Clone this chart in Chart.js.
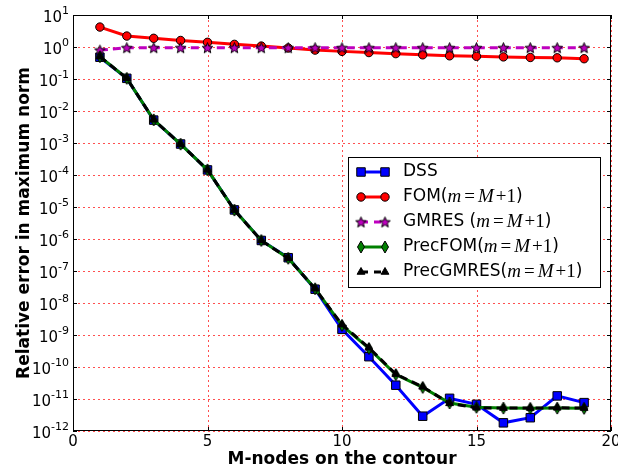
<!DOCTYPE html>
<html lang="en">
<head>
<meta charset="UTF-8">
<title>Relative error vs M-nodes</title>
<style>
    body { margin: 0; background: #fff; }
    canvas { display: block; }
</style>
<script src="https://cdn.jsdelivr.net/npm/chart.js@4.4.1/dist/chart.umd.min.js"></script>
</head>
<body>
<canvas id="errChart" width="618" height="470"></canvas>
<script>
// values
const nodes = [1, 2, 3, 4, 5, 6, 7, 8, 9, 10, 11, 12, 13, 14, 15, 16, 17, 18, 19];
const dss = [0.48, 0.105, 5.2e-3, 9.3e-4, 1.44e-4, 8.1e-6, 9e-7, 2.6e-7, 2.7e-8, 1.5e-9,
             2.1e-10, 2.7e-11, 2.9e-12, 1.05e-11, 6.8e-12, 1.8e-12, 2.6e-12, 1.25e-11, 7.7e-12];
const fom = [4.2, 2.2, 1.87, 1.6, 1.4, 1.21, 1.07, 0.93, 0.80, 0.73,
             0.67, 0.62, 0.57, 0.53, 0.51, 0.49, 0.47, 0.46, 0.43];
const gmres = [0.8, 0.95, 0.95, 0.95, 0.95, 0.95, 0.95, 0.95, 0.95, 0.95,
               0.95, 0.95, 0.95, 0.95, 0.95, 0.95, 0.95, 0.95, 0.95];
const precFom = [0.5, 0.105, 5.3e-3, 9.2e-4, 1.45e-4, 8e-6, 9e-7, 2.5e-7, 2.8e-8, 2e-9,
                 3.8e-10, 5.8e-11, 2.3e-11, 7.5e-12, 5.5e-12, 5.2e-12, 5.1e-12, 5.2e-12, 5.1e-12];
const precGmres = [0.5, 0.105, 5.3e-3, 9.2e-4, 1.45e-4, 8e-6, 9e-7, 2.5e-7, 2.8e-8, 2.1e-9,
                   4e-10, 6e-11, 2.4e-11, 7.3e-12, 5.3e-12, 5.2e-12, 5.2e-12, 5.3e-12, 5.2e-12];
const xTicks = [0, 5, 10, 15, 20];
const yExponents = [1, 0, -1, -2, -3, -4, -5, -6, -7, -8, -9, -10, -11, -12];

const BLUE = '#0000ff', RED = '#ff0000', MAG = '#bf00bf', GREEN = '#008000';

// matplotlib-like star and thin diamond markers as small images
function makeMarker(w, h, path, fill) {
    const c = document.createElement('canvas');
    c.width = w; c.height = h;
    const g = c.getContext('2d');
    g.beginPath();
    path(g);
    g.closePath();
    g.fillStyle = fill;
    g.fill();
    g.lineWidth = 1;
    g.strokeStyle = '#000';
    g.stroke();
    return c;
}
const starImg = makeMarker(13, 13, g => {
    for (let i = 0; i < 10; i++) {
        const r = i % 2 ? 2.4 : 5.6;
        const a = -Math.PI / 2 + i * Math.PI / 5;
        g.lineTo(6.5 + r * Math.cos(a), 7 + r * Math.sin(a));
    }
}, MAG);
const diamondImg = makeMarker(10, 14, g => {
    g.moveTo(5, 1); g.lineTo(8.5, 7); g.lineTo(5, 13); g.lineTo(1.5, 7);
}, GREEN);

function pts(vals) {
    return nodes.map((n, i) => ({ x: n, y: vals[i] }));
}

const series = [
    { label: 'DSS', math: false, data: dss, color: BLUE, fill: BLUE, style: 'rect', radius: 6, dash: [] },
    { label: 'FOM(', math: true, data: fom, color: RED, fill: RED, style: 'circle', radius: 4.2, dash: [] },
    { label: 'GMRES (', math: true, data: gmres, color: MAG, fill: MAG, style: starImg, radius: 6, dash: [8, 5] },
    { label: 'PrecFOM(', math: true, data: precFom, color: GREEN, fill: GREEN, style: diamondImg, radius: 6, dash: [] },
    { label: 'PrecGMRES(', math: true, data: precGmres, color: '#000', fill: '#000', style: 'triangle', radius: 4.5, dash: [8, 5] }
];

// red dotted grid under the lines
const dottedGrid = {
    id: 'dottedGrid',
    beforeDatasetsDraw(chart) {
        const ctx = chart.ctx;
        const a = chart.chartArea;
        const xs = chart.scales.x, ys = chart.scales.y;
        ctx.save();
        ctx.strokeStyle = 'rgb(255,80,80)';
        ctx.lineWidth = 1;
        ctx.setLineDash([2, 3]);
        ctx.beginPath();
        xTicks.forEach(v => {
            const px = Math.round(xs.getPixelForValue(v)) + 0.5;
            ctx.moveTo(px, a.top); ctx.lineTo(px, a.bottom);
        });
        yExponents.forEach(e => {
            const py = Math.round(ys.getPixelForValue(Math.pow(10, e))) + 0.5;
            ctx.moveTo(a.left, py); ctx.lineTo(a.right, py);
        });
        ctx.stroke();
        ctx.restore();
    }
};

// frame, inward ticks, tick labels, axis titles and legend
const decorations = {
    id: 'decorations',
    afterDraw(chart) {
        const ctx = chart.ctx;
        const a = chart.chartArea;
        const xs = chart.scales.x, ys = chart.scales.y;
        ctx.save();

        ctx.strokeStyle = '#000';
        ctx.lineWidth = 1;
        ctx.strokeRect(a.left + 0.5, a.top + 0.5, a.right - a.left - 1, a.bottom - a.top - 1);
        ctx.beginPath();
        xTicks.forEach(v => {
            const px = Math.round(xs.getPixelForValue(v)) + 0.5;
            ctx.moveTo(px, a.bottom); ctx.lineTo(px, a.bottom - 4);
            ctx.moveTo(px, a.top); ctx.lineTo(px, a.top + 4);
        });
        yExponents.forEach(e => {
            const py = Math.round(ys.getPixelForValue(Math.pow(10, e))) + 0.5;
            ctx.moveTo(a.left, py); ctx.lineTo(a.left + 4, py);
            ctx.moveTo(a.right, py); ctx.lineTo(a.right - 4, py);
        });
        ctx.stroke();

        ctx.fillStyle = '#000';
        ctx.font = '15px "DejaVu Sans"';
        ctx.textAlign = 'center';
        ctx.textBaseline = 'alphabetic';
        xTicks.forEach(v => {
            ctx.fillText(String(v), xs.getPixelForValue(v), a.bottom + 15);
        });

        ctx.textAlign = 'left';
        yExponents.forEach(e => {
            const py = ys.getPixelForValue(Math.pow(10, e));
            const sup = String(e);
            ctx.font = '11px "DejaVu Sans"';
            const sw = ctx.measureText(sup).width;
            ctx.font = '15px "DejaVu Sans"';
            const bw = ctx.measureText('10').width;
            const right = a.left - 4;
            ctx.fillText('10', right - sw - bw, py + 7);
            ctx.font = '11px "DejaVu Sans"';
            ctx.fillText(sup, right - sw, py - 1);
        });

        ctx.font = 'bold 17px "DejaVu Sans"';
        ctx.textAlign = 'center';
        ctx.fillText('M-nodes on the contour', (a.left + a.right) / 2, 464);
        ctx.save();
        ctx.translate(29, 223);
        ctx.rotate(-Math.PI / 2);
        ctx.fillText('Relative error in maximum norm', 0, 0);
        ctx.restore();

        // legend
        const bx = 348, by = 157, bw = 252, bh = 130;
        ctx.fillStyle = '#fff';
        ctx.fillRect(bx, by, bw, bh);
        ctx.strokeRect(bx + 0.5, by + 0.5, bw, bh);
        series.forEach((s, i) => {
            const y = by + 15 + i * 25;
            ctx.strokeStyle = s.color;
            ctx.lineWidth = 3;
            ctx.setLineDash(s.dash.length ? [7, 6] : []);
            ctx.beginPath();
            ctx.moveTo(361, y); ctx.lineTo(385, y);
            ctx.stroke();
            ctx.setLineDash([]);
            ctx.fillStyle = s.fill;
            ctx.strokeStyle = '#000';
            ctx.lineWidth = 1;
            [361, 385].forEach(mx => {
                Chart.helpers.drawPoint(ctx, { pointStyle: s.style, radius: s.radius, rotation: 0, borderWidth: 1 }, mx, y);
            });
            ctx.fillStyle = '#000';
            ctx.textAlign = 'left';
            ctx.textBaseline = 'middle';
            let x = 403;
            const put = (txt, font, gap) => {
                ctx.font = font;
                ctx.fillText(txt, x, y);
                x += ctx.measureText(txt).width + (gap || 0);
            };
            put(s.label, '17px "DejaVu Sans"');
            if (s.math) {
                put('m', 'italic 19px "Liberation Serif"', 3);
                put('=', '19px "Liberation Serif"', 3);
                put('M', 'italic 19px "Liberation Serif"', 2);
                put('+1', '19px "Liberation Serif"');
                put(')', '17px "DejaVu Sans"');
            }
        });
        ctx.restore();
    }
};

new Chart(document.getElementById('errChart').getContext('2d'), {
    type: 'line',
    data: {
        datasets: series.map((s, i) => ({
            label: s.label,
            data: pts(s.data),
            borderColor: s.color,
            backgroundColor: s.fill,
            borderWidth: 3,
            borderDash: s.dash,
            pointStyle: s.style,
            pointRadius: s.radius,
            pointBackgroundColor: s.fill,
            pointBorderColor: '#000',
            pointBorderWidth: 1,
            fill: false,
            tension: 0,
            order: series.length - i
        }))
    },
    options: {
        responsive: false,
        animation: false,
        layout: { padding: { left: 73, right: 7, top: 15, bottom: 39 } },
        scales: {
            x: {
                type: 'linear',
                display: false,
                min: 0,
                max: 20
            },
            y: {
                type: 'logarithmic',
                display: false,
                min: 1e-12,
                max: 10
            }
        },
        plugins: {
            legend: { display: false },
            tooltip: { enabled: false }
        }
    },
    plugins: [dottedGrid, decorations]
});
</script>
</body>
</html>
